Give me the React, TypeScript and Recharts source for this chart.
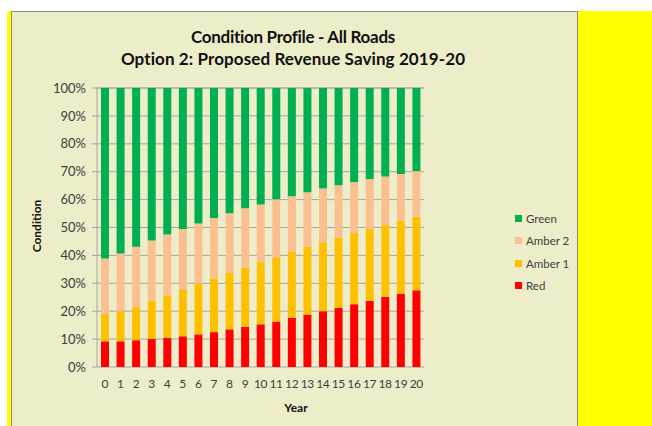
import React from "react";
import {
  BarChart,
  Bar,
  XAxis,
  YAxis,
  CartesianGrid,
  Legend,
} from "recharts";

const years = [
  "0", "1", "2", "3", "4", "5", "6", "7", "8", "9", "10",
  "11", "12", "13", "14", "15", "16", "17", "18", "19", "20",
];

// cumulative tops (percent)
const redTop = [9.2, 9.2, 9.6, 10.1, 10.5, 11.0, 11.7, 12.5, 13.5, 14.4, 15.3, 16.3, 17.6, 18.8, 20.0, 21.2, 22.5, 23.7, 25.1, 26.3, 27.5];
const amber1Top = [18.9, 20.0, 21.6, 23.7, 25.6, 27.7, 29.9, 31.7, 33.8, 35.6, 37.6, 39.3, 41.3, 43.1, 44.7, 46.3, 48.0, 49.5, 50.9, 52.5, 53.9];
const amber2Top = [38.9, 40.7, 43.1, 45.3, 47.5, 49.5, 51.4, 53.4, 55.1, 56.9, 58.2, 60.1, 61.2, 62.6, 64.0, 65.1, 66.3, 67.4, 68.3, 69.2, 70.2];

const yTicks = [0, 10, 20, 30, 40, 50, 60, 70, 80, 90, 100];
const boundaryTicks = [0, 1, 2, 3, 4, 5, 6, 7, 8, 9, 10, 11, 12, 13, 14, 15, 16, 17, 18, 19, 20, 21];

const SERIES = [
  { key: "Red", color: "#FF0000" },
  { key: "Amber 1", color: "#FFC000" },
  { key: "Amber 2", color: "#FAC090" },
  { key: "Green", color: "#00B050" },
];

const data = years.map((y, i) => ({
  year: y,
  Red: redTop[i],
  "Amber 1": +(amber1Top[i] - redTop[i]).toFixed(1),
  "Amber 2": +(amber2Top[i] - amber1Top[i]).toFixed(1),
  Green: +(100 - amber2Top[i]).toFixed(1),
}));

const FONT = "Lato, 'Open Sans', sans-serif";
const BG = "#EEEDCA";

function LegendBox() {
  const items = [...SERIES].reverse();
  return (
    <div style={{ fontFamily: FONT, fontSize: 11.5, color: "#404040" }}>
      {items.map((s) => (
        <div
          key={s.key}
          style={{ display: "flex", alignItems: "center", height: 22.5 }}
        >
          <span
            style={{
              display: "inline-block",
              width: 7,
              height: 7,
              background: s.color,
              marginRight: 4,
            }}
          />
          {s.key}
        </div>
      ))}
    </div>
  );
}

export default function App() {
  return (
    <div
      style={{
        position: "absolute",
        left: 0,
        top: 0,
        width: 652,
        height: 426,
        background: "#fff",
        overflow: "hidden",
        fontFamily: FONT,
      }}
    >
      <div style={{ position: "absolute", left: 7, top: 11, width: 4, height: 415, background: "#FFFF00" }} />
      <div style={{ position: "absolute", left: 578, top: 11, width: 74, height: 415, background: "#FFFF00" }} />
      <div
        style={{
          position: "absolute",
          left: 11,
          top: 11,
          width: 565,
          height: 420,
          background: BG,
          border: "1px solid #8C8C8C",
          borderBottom: "none",
        }}
      />
      <div
        style={{
          position: "absolute",
          left: 0,
          top: 26,
          width: 586,
          textAlign: "center",
          fontWeight: 700,
          fontSize: 17,
          lineHeight: "22px",
          color: "#111",
        }}
      >
        <div style={{ letterSpacing: -0.3 }}>Condition Profile - All Roads</div>
        <div style={{ letterSpacing: 0.1 }}>Option 2: Proposed Revenue Saving 2019-20</div>
      </div>
      <div
        style={{
          position: "absolute",
          left: 36,
          top: 226,
          transform: "translate(-50%, -50%) rotate(-90deg)",
          fontWeight: 700,
          fontSize: 12,
          color: "#111",
          whiteSpace: "nowrap",
        }}
      >
        Condition
      </div>
      <div
        style={{
          position: "absolute",
          left: 296,
          top: 407,
          transform: "translate(-50%, -50%)",
          fontWeight: 700,
          fontSize: 12,
          color: "#111",
        }}
      >
        Year
      </div>
      <div style={{ position: "absolute", left: 0, top: 0 }}>
        <BarChart
          width={652}
          height={426}
          data={data}
          margin={{ top: 88, right: 158, bottom: 29, left: 37 }}
          barSize={8}
        >
          <CartesianGrid horizontal vertical={false} stroke="#A6A6A6" />
          <XAxis
            xAxisId="edges"
            type="number"
            dataKey="idx"
            domain={[0, 21]}
            ticks={boundaryTicks}
            tick={false}
            tickSize={5}
            height={0}
            stroke="#A6A6A6"
          />
          <XAxis
            dataKey="year"
            interval={0}
            axisLine={false}
            tickLine={false}
            height={30}
            tick={{ fill: "#404040", fontSize: 12, fontFamily: FONT, letterSpacing: -0.4 }}
            tickMargin={6}
          />
          <YAxis
            width={60}
            domain={[0, 100]}
            ticks={yTicks}
            tickFormatter={(v) => `${v}%`}
            tickSize={5}
            stroke="#A6A6A6"
            tick={{ fill: "#404040", fontSize: 13, fontFamily: FONT }}
            tickMargin={6}
          />
          <Legend
            layout="vertical"
            align="right"
            verticalAlign="top"
            content={() => <LegendBox />}
            wrapperStyle={{ left: 515, top: 207, width: 70 }}
          />
          {SERIES.map((s) => (
            <Bar
              key={s.key}
              dataKey={s.key}
              stackId="a"
              fill={s.color}
              isAnimationActive={false}
            />
          ))}
        </BarChart>
      </div>
    </div>
  );
}
